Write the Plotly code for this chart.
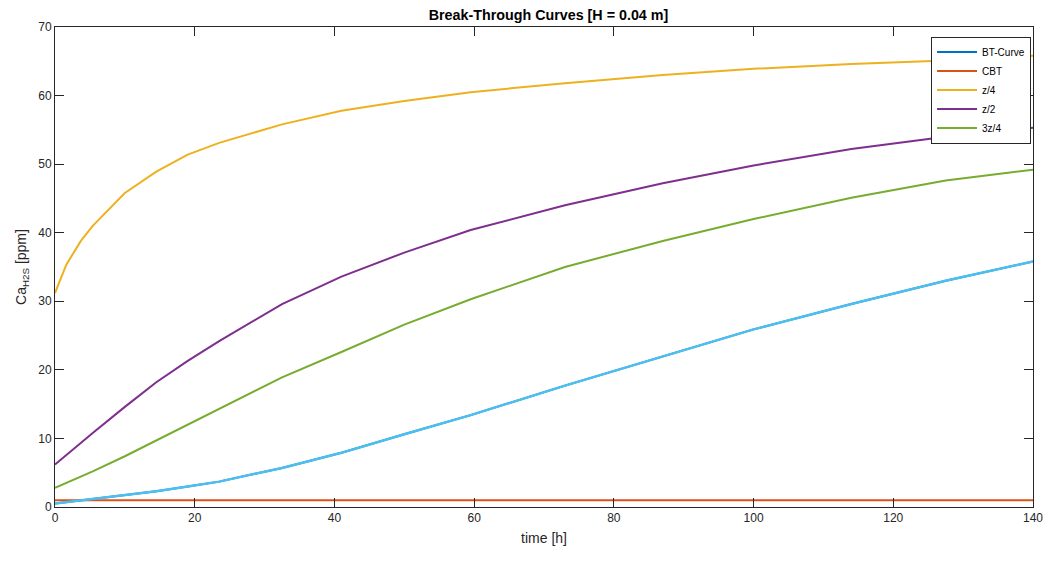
import plotly.graph_objects as go

# time points [h]
t = [0, 1.6, 3.7, 5.4, 10, 14.5, 19, 23.5, 32.5, 41, 50, 59.5, 73, 87, 100, 114, 127.5, 140]

bt_curve = [0.5, 0.7, 1.0, 1.2, 1.8, 2.3, 3.0, 3.7, 5.7, 7.9, 10.6, 13.4, 17.7, 22.0, 25.9, 29.6, 33.0, 35.8]
cbt = [1.0] * len(t)
z_quarter = [31.2, 35.3, 38.8, 41.0, 45.8, 48.9, 51.4, 53.1, 55.8, 57.8, 59.2, 60.5, 61.8, 63.0, 63.9, 64.6, 65.1, 65.8]
z_half = [6.2, 7.6, 9.3, 10.8, 14.6, 18.2, 21.3, 24.2, 29.6, 33.6, 37.1, 40.4, 44.0, 47.2, 49.8, 52.2, 54.0, 55.3]
z_3quarter = [2.8, 3.5, 4.4, 5.2, 7.4, 9.7, 12.0, 14.3, 18.9, 22.6, 26.6, 30.3, 35.0, 38.8, 42.0, 45.1, 47.6, 49.2]
outlet = bt_curve  # light-blue overlay (not in legend)

x_ticks = [0, 20, 40, 60, 80, 100, 120, 140]
y_ticks = [0, 10, 20, 30, 40, 50, 60, 70]

FONT = "Liberation Sans, Arial, Helvetica"

fig = go.Figure()
fig.add_trace(go.Scatter(x=t, y=bt_curve, mode="lines", name="BT-Curve",
                         line=dict(color="#0072BD", width=2)))
fig.add_trace(go.Scatter(x=t, y=cbt, mode="lines", name="CBT",
                         line=dict(color="#D95319", width=2)))
fig.add_trace(go.Scatter(x=t, y=z_quarter, mode="lines", name="z/4",
                         line=dict(color="#EDB120", width=2)))
fig.add_trace(go.Scatter(x=t, y=z_half, mode="lines", name="z/2",
                         line=dict(color="#7E2F8E", width=2)))
fig.add_trace(go.Scatter(x=t, y=z_3quarter, mode="lines", name="3z/4",
                         line=dict(color="#77AC30", width=2)))
fig.add_trace(go.Scatter(x=t, y=outlet, mode="lines", name="z",
                         showlegend=False,
                         line=dict(color="#4DBEEE", width=2.5)))

axis_common = dict(
    showgrid=False, zeroline=False, showline=True, linecolor="#262626",
    linewidth=1, mirror="ticks", ticks="inside", ticklen=9, tickwidth=1,
    tickcolor="#262626", tickfont=dict(family=FONT, size=12, color="#262626"),
)

# page body has an 8px margin: figure 1047x547 at (8,8) fills the window exactly
W, H = 1047, 547
L, R, T, B = 46, 12, 17, 42
fig.update_layout(
    width=W, height=H,
    margin=dict(l=L, r=R, t=T, b=B),
    paper_bgcolor="white", plot_bgcolor="white",
    title=dict(text="<b>Break-Through Curves [H = 0.04 m]</b>",
               x=(L + W - R) / 2 / W, xanchor="center", y=1 - 7 / H, yanchor="middle",
               font=dict(family=FONT, size=14.3, color="#000000")),
    xaxis=dict(range=[0, 140], tickvals=x_ticks,
               title=dict(text="time [h]", standoff=8,
                          font=dict(family=FONT, size=14, color="#262626")),
               **axis_common),
    yaxis=dict(range=[0, 70], tickvals=y_ticks,
               title=dict(text="Ca<sub>H2S</sub> [ppm]", standoff=8,
                          font=dict(family=FONT, size=14, color="#262626")),
               **axis_common),
    legend=dict(x=0.998, xanchor="right", y=0.98, yanchor="top",
                bgcolor="white", bordercolor="#262626", borderwidth=1,
                font=dict(family=FONT, size=10, color="#000000"),
                tracegroupgap=0, itemwidth=40),
    showlegend=True,
)

fig.write_html("out.html", config={"displayModeBar": False})
